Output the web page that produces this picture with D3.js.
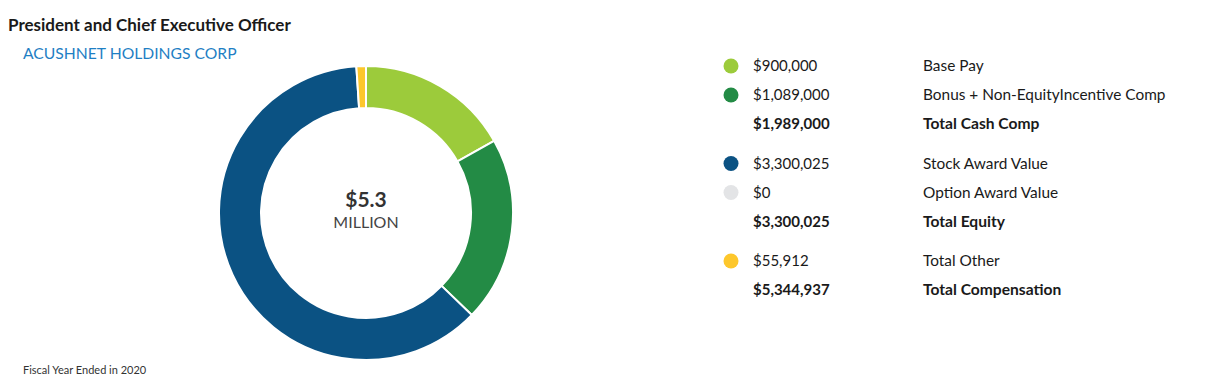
<!DOCTYPE html>
<html>
<head>
<meta charset="utf-8">
<script src="https://cdn.jsdelivr.net/npm/d3@7"></script>
<style>
  body { margin: 0; background: #fff; font-family: Lato, "Noto Sans", sans-serif; }
  svg { display: block; }
</style>
</head>
<body>
<svg id="chart" width="1212" height="391"></svg>
<script>
// Chart data
const title = 'President and Chief Executive Officer';
const company = 'ACUSHNET HOLDINGS CORP';
const footnote = 'Fiscal Year Ended in 2020';
const centerValue = '$5.3';
const centerUnit = 'MILLION';

const components = ['Base Pay', 'Bonus + Non-EquityIncentive Comp', 'Stock Award Value', 'Option Award Value', 'Total Other'];
const amounts = [900000, 1089000, 3300025, 0, 55912];
const colors = ['#9ccb3b', '#238b45', '#0b5283', '#e3e4e6', '#fdc72c'];

// legend rows: component index, or a total line
const legendRows = [
    { type: 'item', i: 0 },
    { type: 'item', i: 1 },
    { type: 'total', label: 'Total Cash Comp', value: 1989000 },
    { type: 'gap' },
    { type: 'item', i: 2 },
    { type: 'item', i: 3 },
    { type: 'total', label: 'Total Equity', value: 3300025 },
    { type: 'gap' },
    { type: 'item', i: 4 },
    { type: 'total', label: 'Total Compensation', value: 5344937 }
];

const svg = d3.select('#chart');
const fmt = d3.format('$,');

// Titles
svg.append('text')
    .attr('x', 8).attr('y', 31)
    .attr('font-size', 17).attr('font-weight', 'bold')
    .attr('fill', '#1a1a1a')
    .text(title);

svg.append('text')
    .attr('x', 23).attr('y', 59)
    .attr('font-size', 15.7)
    .attr('fill', '#1f7fc4')
    .text(company);

svg.append('text')
    .attr('x', 23).attr('y', 374)
    .attr('font-size', 11)
    .attr('fill', '#333')
    .text(footnote);

// Donut
const cx = 366, cy = 213;
const outer = 147, inner = 105;

const pie = d3.pie().sort(null).value(d => d);
const arc = d3.arc().innerRadius(inner).outerRadius(outer);

const g = svg.append('g').attr('transform', `translate(${cx},${cy})`);

g.selectAll('path')
    .data(pie(amounts))
    .enter().append('path')
    .attr('d', arc)
    .attr('fill', (d, i) => colors[i])
    .attr('stroke', '#fff')
    .attr('stroke-width', d => d.value > 0 ? 2 : 0);

g.append('text')
    .attr('y', -6)
    .attr('text-anchor', 'middle')
    .attr('font-size', 21).attr('font-weight', 'bold')
    .attr('fill', '#333')
    .text(centerValue);

g.append('text')
    .attr('y', 15)
    .attr('text-anchor', 'middle')
    .attr('font-size', 16)
    .attr('fill', '#444')
    .text(centerUnit);

// Legend
const legend = svg.append('g');
const rowH = 29, gapH = 10.5;
let y = 66;
legendRows.forEach(row => {
    if (row.type === 'gap') { y += gapH; return; }
    const bold = row.type === 'total';
    if (row.type === 'item') {
        legend.append('circle')
            .attr('cx', 731).attr('cy', y)
            .attr('r', 7.5)
            .attr('fill', colors[row.i]);
    }
    legend.append('text')
        .attr('x', 753).attr('y', y + 5)
        .attr('font-size', 15)
        .attr('font-weight', bold ? 'bold' : 'normal')
        .attr('fill', '#1a1a1a')
        .text(fmt(bold ? row.value : amounts[row.i]));
    legend.append('text')
        .attr('x', 923).attr('y', y + 5)
        .attr('font-size', bold ? 15.6 : 15.4)
        .attr('font-weight', bold ? 'bold' : 'normal')
        .attr('fill', '#1a1a1a')
        .text(bold ? row.label : components[row.i]);
    y += rowH;
});
</script>
</body>
</html>
